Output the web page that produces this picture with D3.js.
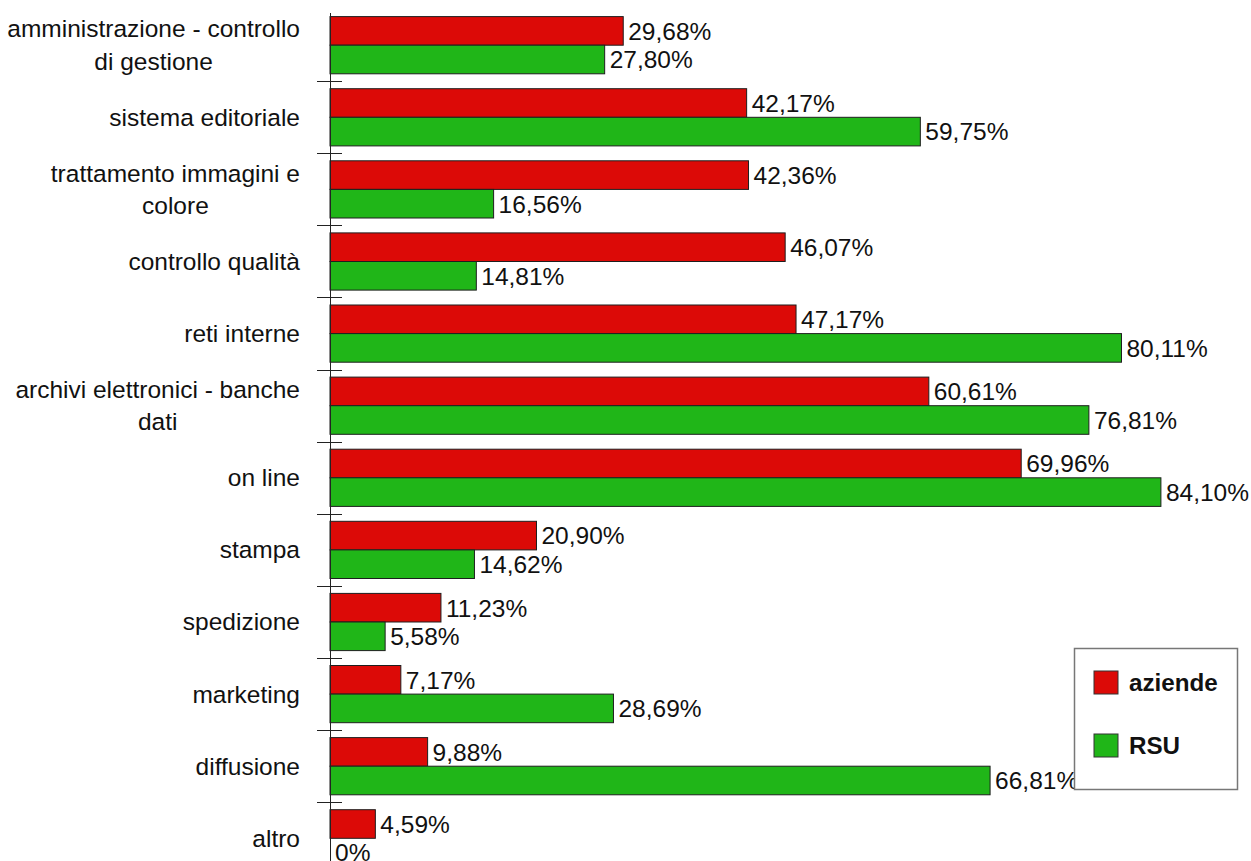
<!DOCTYPE html>
<html>
<head>
<meta charset="utf-8">
<script src="https://cdn.jsdelivr.net/npm/d3@7"></script>
<style>
  html, body { margin: 0; padding: 0; background: #fff; }
  svg { display: block; font-family: "Liberation Sans", Arial, sans-serif; }
</style>
</head>
<body>
<svg id="chart" width="1251" height="861"></svg>
<script>
// Category labels (each entry lists its wrapped lines)
const categories = [
  ["amministrazione - controllo", "di gestione"],
  ["sistema editoriale"],
  ["trattamento immagini e", "colore"],
  ["controllo qualità"],
  ["reti interne"],
  ["archivi elettronici - banche", "dati"],
  ["on line"],
  ["stampa"],
  ["spedizione"],
  ["marketing"],
  ["diffusione"],
  ["altro"]
];
const seriesNames = ["aziende", "RSU"];
const aziende = [29.68, 42.17, 42.36, 46.07, 47.17, 60.61, 69.96, 20.90, 11.23, 7.17, 9.88, 4.59];
const rsu     = [27.80, 59.75, 16.56, 14.81, 80.11, 76.81, 84.10, 14.62, 5.58, 28.69, 66.81, 0];
const seriesColors = ["#dc0a07", "#20b618"];

const svg = d3.select("#chart");
const keys = categories.map((c, i) => i);

const axisX = 330;
const x = d3.scaleLinear().domain([0, 100]).range([axisX, axisX + 988]);
const y = d3.scaleBand().domain(keys).range([9, 874.2]).padding(0);
const ySub = d3.scaleBand().domain(seriesNames)
  .range([7.6, y.bandwidth() - 7.3]).padding(0);

const locale = d3.formatLocale({ decimal: ",", thousands: ".", grouping: [3], currency: ["", "€"] });
const fmt = locale.format(".2f");
const label = v => (v === 0 ? "0" : fmt(v)) + "%";

const rows = keys.map(i => ({ i, values: [aziende[i], rsu[i]] }));

// Bars
const groups = svg.append("g").selectAll("g")
  .data(rows).join("g")
  .attr("transform", d => `translate(0,${y(d.i)})`);

groups.selectAll("rect")
  .data(d => d.values.map((v, s) => ({ v, s })))
  .join("rect")
  .filter(d => d.v > 0)
  .attr("x", x(0))
  .attr("y", d => ySub(seriesNames[d.s]))
  .attr("width", d => x(d.v) - x(0))
  .attr("height", ySub.bandwidth())
  .attr("fill", d => seriesColors[d.s])
  .attr("stroke", "#1e1e1e")
  .attr("stroke-width", 1);

// Value labels
groups.selectAll("text")
  .data(d => d.values.map((v, s) => ({ v, s })))
  .join("text")
  .attr("x", d => x(d.v) + 5)
  .attr("y", d => ySub(seriesNames[d.s]) + ySub.bandwidth() / 2)
  .attr("dy", "0.36em")
  .attr("font-size", "24.5px")
  .attr("fill", "#111")
  .text(d => label(d.v));

// Vertical axis line and ticks at category boundaries
const axisG = svg.append("g").attr("stroke", "#222").attr("stroke-width", 1);
axisG.append("line")
  .attr("x1", axisX + 0.5).attr("x2", axisX + 0.5)
  .attr("y1", y.range()[0] + 4).attr("y2", y.range()[1]);
axisG.selectAll("line.tick")
  .data(keys.slice(1)).join("line")
  .attr("class", "tick")
  .attr("x1", axisX - 13).attr("x2", axisX + 12)
  .attr("y1", d => Math.round(y(d)) + 0.5)
  .attr("y2", d => Math.round(y(d)) + 0.5);

// Category labels: lines centred on each other, block right-aligned to the axis gap
const lineH = 32.5;
const labelRight = 300;
const catG = svg.append("g").attr("font-size", "24.5px").attr("fill", "#111");
categories.forEach((lines, i) => {
  const cy = y(i) + y.bandwidth() / 2;
  const g = catG.append("g");
  const texts = lines.map((ln, k) => g.append("text")
    .attr("y", cy + (k - (lines.length - 1) / 2) * lineH)
    .attr("dy", "0.35em")
    .text(ln));
  const maxW = d3.max(texts, t => t.node().getComputedTextLength());
  texts.forEach(t => t.attr("x", labelRight - maxW / 2).attr("text-anchor", "middle"));
});

// Legend
const legend = svg.append("g").attr("transform", "translate(1074,648)");
legend.append("rect")
  .attr("x", 0.5).attr("y", 0.5)
  .attr("width", 163).attr("height", 141)
  .attr("fill", "#fff")
  .attr("stroke", "#777").attr("stroke-width", 1.5);
seriesNames.forEach((name, s) => {
  const row = legend.append("g").attr("transform", `translate(20,${23 + s * 63})`);
  row.append("rect")
    .attr("width", 24).attr("height", 23)
    .attr("fill", seriesColors[s])
    .attr("stroke", "#333").attr("stroke-width", 1);
  row.append("text")
    .attr("x", 35).attr("y", 11.5).attr("dy", "0.36em")
    .attr("font-size", "24.2px").attr("font-weight", "bold").attr("fill", "#111")
    .text(name);
});
</script>
</body>
</html>
